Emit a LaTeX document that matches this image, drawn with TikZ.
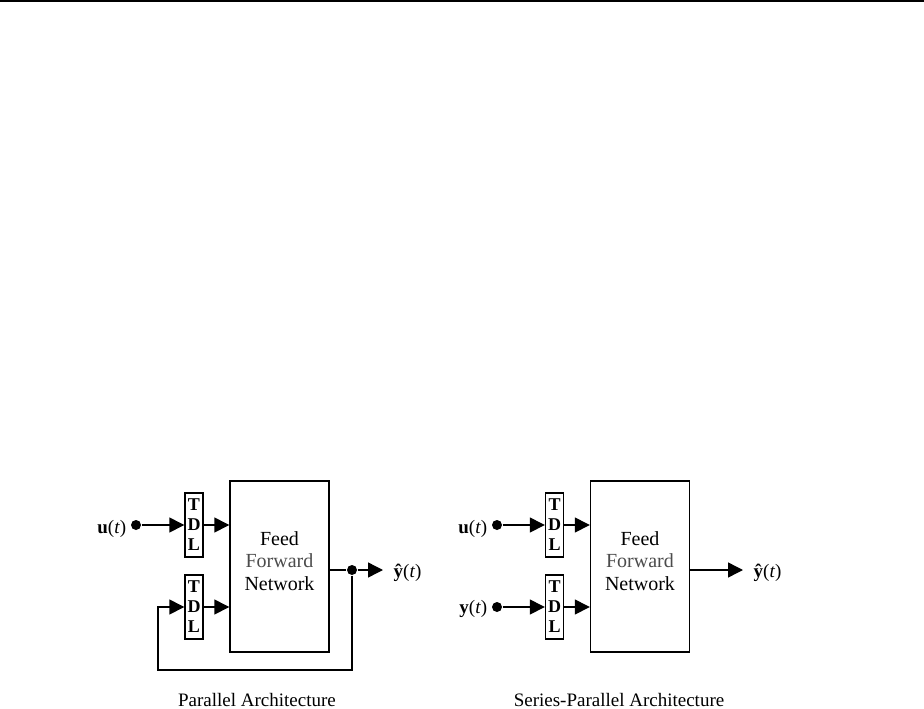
\documentclass[tikz,border=0pt]{standalone}
\usepackage{fontspec}
\setmainfont{Liberation Serif}
\usetikzlibrary{arrows.meta}
\begin{document}
\begin{tikzpicture}[x=1pt,y=-1pt,
  line width=1.4pt,
  tdl/.style={draw, minimum width=18pt, minimum height=64pt, inner sep=0pt, align=center, font=\fontsize{18}{20}\selectfont\bfseries},
  ffn/.style={draw, minimum width=99pt, minimum height=171pt},
  ffntext/.style={align=center, inner sep=0pt, font=\fontsize{20}{22.5}\selectfont},
  dot/.style={circle, fill, inner sep=0pt, minimum size=10pt},
  arr/.style={-{Triangle[length=15pt,width=15pt]}},
  lbl/.style={font=\fontsize{19}{22}\selectfont, inner sep=0pt},
]
\useasboundingbox (0,0) rectangle (924,709);
% top rule
\coordinate (tl) at (0,1);
\coordinate (tr) at (924,1);
\draw[line width=1.8pt] (tl) -- (tr);

\newcommand{\yhatlbl}{\textbf{ŷ}(\textit{t})}

% ---------- Parallel ----------
\node[ffn] (f1) at (279.5,566.5) {};
\node[ffntext] (f1t) at (279.5,561) {Feed\\{\color{black!70}Forward}\\Network};
\node[tdl] (a1) at (194,525) {T\\D\\L};
\node[tdl] (a2) at (194,607) {T\\D\\L};
\node[dot] (du1) at (136,525) {};
\node[lbl, anchor=base east] (lu1) at (127,533) {\textbf{u}(\textit{t})};
\node[dot] (do1) at (352,570) {};
\coordinate (out1) at (383,570);
\node[lbl, anchor=base west] (ly1) at (393,577) {\yhatlbl};
\coordinate (fb1) at (352,670);
\coordinate (fb2) at (158,670);
\coordinate (fb3) at (158,607);

\draw[arr] (du1) -- (a1.west);
\draw[arr] (a1.east) -- (a1.east -| f1.west);
\draw[arr] (a2.east) -- (a2.east -| f1.west);
\draw (f1.east |- do1) -- (do1);
\draw[arr] (do1) -- (out1);
\draw[arr] (do1) -- (fb1) -- (fb2) -- (fb3) -- (a2.west);
\node[lbl, anchor=base] (cap1) at (257,706) {Parallel Architecture};

% ---------- Series-Parallel ----------
\node[ffn] (f2) at (640,566.5) {};
\node[ffntext] (f2t) at (640,561) {Feed\\{\color{black!70}Forward}\\Network};
\node[tdl] (b1) at (554.5,525) {T\\D\\L};
\node[tdl] (b2) at (554.5,607) {T\\D\\L};
\node[dot] (du2) at (497,525) {};
\node[dot] (dy2) at (497,607) {};
\node[lbl, anchor=base east] (lu2) at (488,533) {\textbf{u}(\textit{t})};
\node[lbl, anchor=base east] (ly2) at (488,613) {\textbf{y}(\textit{t})};
\coordinate (out2) at (743,570);
\node[lbl, anchor=base west] (lyh2) at (753,577) {\yhatlbl};

\draw[arr] (du2) -- (b1.west);
\draw[arr] (dy2) -- (b2.west);
\draw[arr] (b1.east) -- (b1.east -| f2.west);
\draw[arr] (b2.east) -- (b2.east -| f2.west);
\draw[arr] (f2.east |- out2) -- (out2);
\node[lbl, anchor=base] (cap2) at (619,706) {Series-Parallel Architecture};
\end{tikzpicture}
\end{document}
